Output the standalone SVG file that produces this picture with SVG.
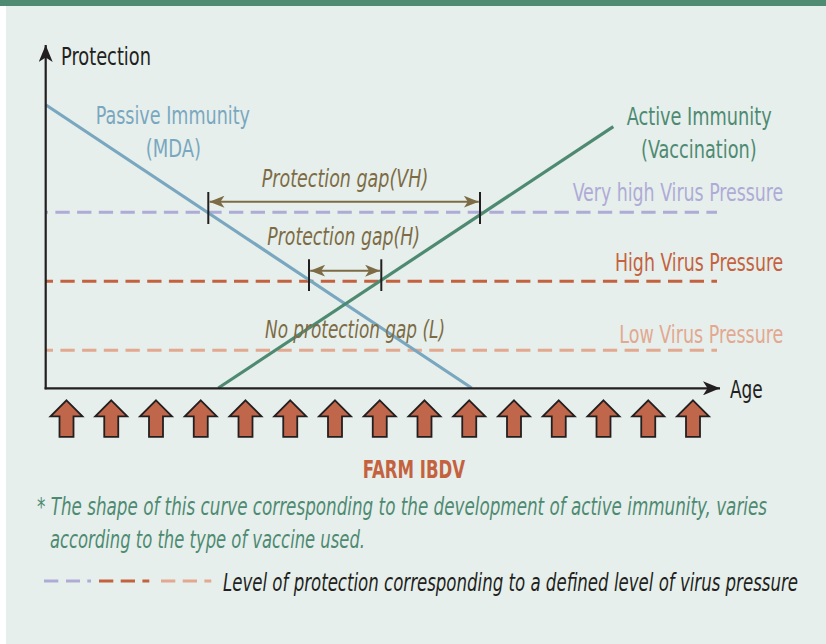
<svg xmlns="http://www.w3.org/2000/svg" xmlns:xlink="http://www.w3.org/1999/xlink" width="826" height="644" viewBox="0 0 826 644">
  <style>
    text { font-family: "Liberation Sans Narrow", "DejaVu Sans Condensed", "Liberation Sans", sans-serif; font-size: 25.5px; }
    .it { font-style: italic; }
    .dark { fill: #231f20; }
    .gap { fill: #7d6b45; font-style: italic; }
    .axis { stroke: #231f20; stroke-width: 2.2; fill: none; }
    .tick { stroke: #231f20; stroke-width: 2; }
    .gapline { stroke: #7d6b45; stroke-width: 2; fill: none; }
    .vh { stroke: #afabd7; stroke-width: 3; stroke-dasharray: 14.3 7.4; }
    .hi { stroke: #c4623f; stroke-width: 3; stroke-dasharray: 14.3 7.4; }
    .lo { stroke: #e3a890; stroke-width: 3; stroke-dasharray: 14.3 7.4; }
    .farm { fill: #c0664a; stroke: #231f20; stroke-width: 1.8; stroke-linejoin: miter; }
  </style>
  <defs>
    <marker id="axisHead" viewBox="0 0 17 14" refX="17" refY="7" markerWidth="17" markerHeight="14" markerUnits="userSpaceOnUse" orient="auto">
      <path d="M0,0 L17,7 L0,14 L4.5,7 Z" fill="#231f20"/>
    </marker>
    <marker id="gapHead" viewBox="0 0 15 12" refX="15" refY="6" markerWidth="15" markerHeight="12" markerUnits="userSpaceOnUse" orient="auto-start-reverse">
      <path d="M0,0 L15,6 L0,12 L4,6 Z" fill="#7d6b45"/>
    </marker>
    <path id="farmArrow" class="farm" d="M0,0 L16,16 L7,16 L7,36.5 L-7,36.5 L-7,16 L-16,16 Z"/>
  </defs>

  <rect x="0" y="0" width="826" height="644" fill="#ffffff"/>
  <rect x="6" y="6" width="820" height="638" fill="#e6efeb"/>
  <rect x="0" y="0" width="826" height="6" fill="#4f8a72"/>

  <g id="connectors">
    <line class="vh" x1="46" y1="212.3" x2="717" y2="212.3" stroke-dashoffset="12.3"/>
    <line class="hi" x1="46" y1="281.2" x2="717" y2="281.2" stroke-dashoffset="7.3"/>
    <line class="lo" x1="46" y1="350.3" x2="717" y2="350.3" stroke-dashoffset="7.3"/>
    <line id="passive-line" x1="46" y1="105" x2="471.7" y2="388" stroke="#7aa7c0" stroke-width="3.2"/>
    <line id="active-line" x1="218.3" y1="388" x2="613.3" y2="126.7" stroke="#4e8a72" stroke-width="3.2"/>
    <line class="axis" x1="45.7" y1="389.3" x2="45.7" y2="45" marker-end="url(#axisHead)"/>
    <line class="axis" x1="44.6" y1="388.3" x2="720" y2="388.3" marker-end="url(#axisHead)"/>
    <line class="tick" x1="208.3" y1="192" x2="208.3" y2="224"/>
    <line class="tick" x1="480" y1="192" x2="480" y2="224"/>
    <line class="gapline" x1="209.5" y1="201.7" x2="478.8" y2="201.7" marker-start="url(#gapHead)" marker-end="url(#gapHead)"/>
    <line class="tick" x1="309" y1="259.3" x2="309" y2="291"/>
    <line class="tick" x1="381.3" y1="259.3" x2="381.3" y2="291"/>
    <line class="gapline" x1="310.2" y1="270.7" x2="380.1" y2="270.7" marker-start="url(#gapHead)" marker-end="url(#gapHead)"/>
  </g>

  <g id="axis-labels">
    <text class="dark" x="61" y="65" textLength="90" lengthAdjust="spacingAndGlyphs">Protection</text>
    <text class="dark" x="730" y="398" textLength="32.7" lengthAdjust="spacingAndGlyphs">Age</text>
  </g>

  <g id="passive-immunity">
    <text x="95.7" y="124" fill="#7aa7c0" textLength="154.3" lengthAdjust="spacingAndGlyphs">Passive Immunity</text>
    <text x="145.7" y="157" fill="#7aa7c0" textLength="55.3" lengthAdjust="spacingAndGlyphs">(MDA)</text>
  </g>

  <g id="active-immunity">
    <text x="626.7" y="125" fill="#4e8a72" textLength="145" lengthAdjust="spacingAndGlyphs">Active Immunity</text>
    <text x="641" y="158" fill="#4e8a72" textLength="115.7" lengthAdjust="spacingAndGlyphs">(Vaccination)</text>
  </g>

  <g id="very-high-pressure">
    <text x="572.7" y="201" fill="#afabd7" textLength="210.6" lengthAdjust="spacingAndGlyphs">Very high Virus Pressure</text>
  </g>
  <g id="high-pressure">
    <text x="615" y="270.5" fill="#c4623f" textLength="168.3" lengthAdjust="spacingAndGlyphs">High Virus Pressure</text>
  </g>
  <g id="low-pressure">
    <text x="619.3" y="343" fill="#e3a890" textLength="164" lengthAdjust="spacingAndGlyphs">Low Virus Pressure</text>
  </g>

  <g id="gap-vh">
    <text class="gap" x="261.7" y="187" textLength="166.6" lengthAdjust="spacingAndGlyphs">Protection gap(VH)</text>
  </g>
  <g id="gap-h">
    <text class="gap" x="267.3" y="245" textLength="152.7" lengthAdjust="spacingAndGlyphs">Protection gap(H)</text>
  </g>
  <g id="gap-l">
    <text class="gap" x="265" y="338" textLength="180" lengthAdjust="spacingAndGlyphs">No protection gap (L)</text>
  </g>

  <g id="farm-ibdv">
    <use xlink:href="#farmArrow" href="#farmArrow" x="66.5" y="400.3"/>
    <use xlink:href="#farmArrow" href="#farmArrow" x="111.25" y="400.3"/>
    <use xlink:href="#farmArrow" href="#farmArrow" x="156" y="400.3"/>
    <use xlink:href="#farmArrow" href="#farmArrow" x="200.75" y="400.3"/>
    <use xlink:href="#farmArrow" href="#farmArrow" x="245.5" y="400.3"/>
    <use xlink:href="#farmArrow" href="#farmArrow" x="290.25" y="400.3"/>
    <use xlink:href="#farmArrow" href="#farmArrow" x="335" y="400.3"/>
    <use xlink:href="#farmArrow" href="#farmArrow" x="379.75" y="400.3"/>
    <use xlink:href="#farmArrow" href="#farmArrow" x="424.5" y="400.3"/>
    <use xlink:href="#farmArrow" href="#farmArrow" x="469.25" y="400.3"/>
    <use xlink:href="#farmArrow" href="#farmArrow" x="514" y="400.3"/>
    <use xlink:href="#farmArrow" href="#farmArrow" x="558.75" y="400.3"/>
    <use xlink:href="#farmArrow" href="#farmArrow" x="603.5" y="400.3"/>
    <use xlink:href="#farmArrow" href="#farmArrow" x="648.25" y="400.3"/>
    <use xlink:href="#farmArrow" href="#farmArrow" x="693" y="400.3"/>
    <text x="362.7" y="478" fill="#c4623f" font-weight="bold" textLength="102.5" lengthAdjust="spacingAndGlyphs">FARM IBDV</text>
  </g>

  <g id="footnote">
    <text class="it" x="37" y="515" fill="#4e8a72" textLength="730" lengthAdjust="spacingAndGlyphs">* The shape of this curve corresponding to the development of active immunity, varies</text>
    <text class="it" x="50" y="548" fill="#4e8a72" textLength="315" lengthAdjust="spacingAndGlyphs">according to the type of vaccine used.</text>
  </g>

  <g id="legend">
    <line x1="44" y1="581" x2="91" y2="581" stroke="#afabd7" stroke-width="3" stroke-dasharray="14.3 7.7 14 7.3 3.7 100"/>
    <line x1="99" y1="581" x2="149.3" y2="581" stroke="#c4623f" stroke-width="3" stroke-dasharray="14.3 7.4"/>
    <line x1="161" y1="581" x2="211.3" y2="581" stroke="#e3a890" stroke-width="3" stroke-dasharray="14.3 7.4"/>
    <text class="it dark" x="223" y="591" textLength="575" lengthAdjust="spacingAndGlyphs">Level of protection corresponding to a defined level of virus pressure</text>
  </g>
</svg>
